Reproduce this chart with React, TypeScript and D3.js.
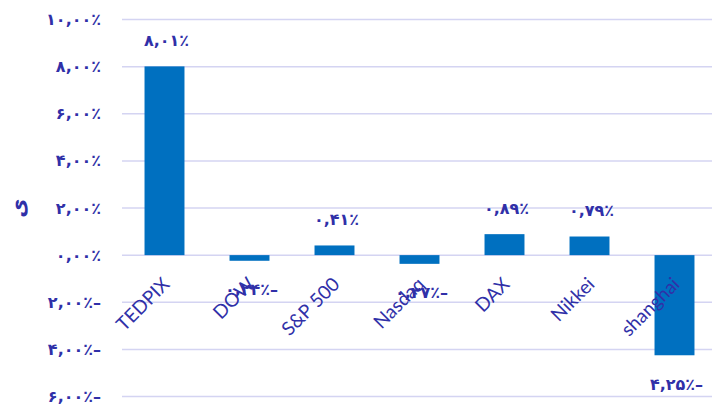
import React from "react";
import * as d3 from "d3";

const categories = ["TEDPIX", "DOW", "S&P 500", "Nasdaq", "DAX", "Nikkei", "shanghai"];
const values = [8.01, -0.24, 0.41, -0.37, 0.89, 0.79, -4.25];
const yTicks = [-6, -4, -2, 0, 2, 4, 6, 8, 10];
const yTitle = "ی";

const W = 715;
const H = 405;
const TEXT = "#3030A8";
const BAR = "#0070C0";
const GRID = "#D4D4F2";

const fa = (s: string) => s.replace(/[0-9]/g, (d) => String.fromCharCode(0x06f0 + +d));
const fmt = (v: number) => {
  const s = fa(Math.abs(v).toFixed(2).replace(".", ",")) + "٪";
  return v < 0 ? s + "–" : s;
};

export default function App() {
  const x = d3.scaleBand<string>().domain(categories).range([122, 717]).paddingInner(0.53).paddingOuter(0.265);
  const y = d3.scaleLinear().domain([-6, 10]).range([396.5, 19.5]);
  const gridX0 = 122;
  const gridX1 = 712;
  return (
    <svg width={W} height={H} style={{ position: "absolute", left: 0, top: 0 }}>
      <rect width={W} height={H} fill="#fff" />
      {yTicks.map((t) => (
        <line key={t} x1={gridX0} x2={gridX1} y1={y(t)} y2={y(t)} stroke={GRID} strokeWidth={1.5} />
      ))}
      {yTicks.map((t) => (
        <text
          key={"l" + t}
          x={101}
          y={y(t)}
          textAnchor="end"
          dominantBaseline="central"
          fontFamily="DejaVu Sans"
          fontWeight="bold"
          fontSize={16}
          fill={TEXT}
          direction="ltr"
          style={{ unicodeBidi: "bidi-override" } as any}
        >
          {fmt(t)}
        </text>
      ))}
      <text
        transform={`translate(18,${y(2)}) rotate(-90)`}
        textAnchor="middle"
        dominantBaseline="central"
        fontFamily="DejaVu Sans"
        fontWeight="bold"
        fontSize={21}
        fill={TEXT}
      >
        {yTitle}
      </text>
      {categories.map((c, i) => {
        const v = values[i];
        const x0 = x(c)!;
        const y0 = y(Math.max(0, v));
        const h = Math.abs(y(v) - y(0));
        return <rect key={c} x={x0} y={y0} width={x.bandwidth()} height={h} fill={BAR} />;
      })}
      {categories.map((c, i) => {
        const v = values[i];
        const cx = x(c)! + x.bandwidth() / 2;
        const ly = v >= 0 ? y(v) - 26 : y(v) + 29;
        return (
          <text
            key={"v" + c}
            x={cx + 2}
            y={ly}
            textAnchor="middle"
            dominantBaseline="central"
            fontFamily="DejaVu Sans"
            fontWeight="bold"
            fontSize={16}
            fill={TEXT}
            direction="ltr"
            style={{ unicodeBidi: "bidi-override" } as any}
          >
            {fmt(v)}
          </text>
        );
      })}
      {categories.map((c) => {
        const cx = x(c)! + x.bandwidth() / 2;
        return (
          <text
            key={"x" + c}
            transform={`translate(${cx + 1},${y(0) + 25}) rotate(-45)`}
            textAnchor="end"
            dominantBaseline="central"
            fontFamily="Lato"
            fontSize={19}
            fill={TEXT}
          >
            {c}
          </text>
        );
      })}
    </svg>
  );
}
